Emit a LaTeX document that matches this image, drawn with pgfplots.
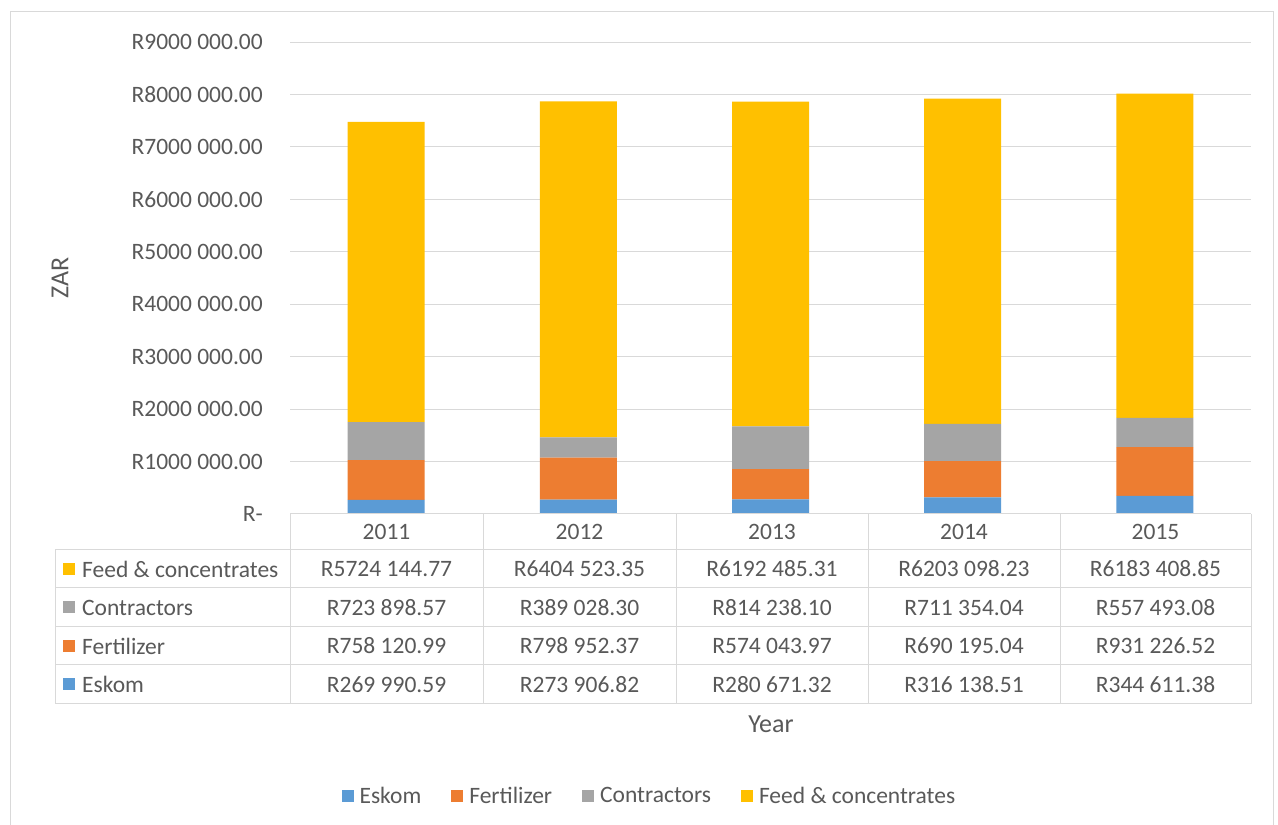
\documentclass[border=0pt]{standalone}
\usepackage{pgfplots}
\pgfplotsset{compat=1.18}
\usepackage{fontspec}
\setmainfont{Carlito}
\definecolor{cEsk}{HTML}{5B9BD5}
\definecolor{cFer}{HTML}{ED7D31}
\definecolor{cCon}{HTML}{A5A5A5}
\definecolor{cFeed}{HTML}{FFC000}
\definecolor{txt}{HTML}{595959}
\definecolor{gridc}{HTML}{D9D9D9}
\pgfplotsset{sq legend/.style={legend image code/.code={\fill[##1] (0pt,-6pt) rectangle (12pt,6pt);}}}
\newcommand{\tf}{\fontsize{23.5}{28}\selectfont}
\begin{document}
\begin{tikzpicture}[x=1pt,y=1pt]
\useasboundingbox (0,0) rectangle (1278,825);
\fill[white] (0,0) rectangle (1278,825);
\draw[gridc, line width=1pt] (10,813) rectangle (1273,-10);
\begin{axis}[
  at={(290pt,311pt)}, anchor=south west,
  scale only axis, width=961pt, height=472pt,
  ymin=0, ymax=9000000, xmin=-0.5, xmax=4.5,
  ybar stacked, bar width=77pt,
  axis line style={draw=none}, major tick length=0pt,
  xtick=\empty,
  ytick={0,1000000,2000000,3000000,4000000,5000000,6000000,7000000,8000000,9000000},
  yticklabels={R-\hspace{11pt},R1000 000.00,R2000 000.00,R3000 000.00,R4000 000.00,R5000 000.00,R6000 000.00,R7000 000.00,R8000 000.00,R9000 000.00},
  scaled y ticks=false,
  ymajorgrids, grid style={gridc, line width=1pt},
  yticklabel style={font=\tf, text=txt, inner sep=0pt, xshift=-27pt},
  legend columns=4,
  legend style={at={(0.374,-0.597)}, anchor=center, draw=none, fill=none,
    font=\tf, text=txt,
    /tikz/every odd column/.append style={column sep=4pt},
    /tikz/every even column/.append style={column sep=28pt}},
]
\addplot[fill=cEsk, draw=none, sq legend] coordinates {(0,269990.59) (1,273906.82) (2,280671.32) (3,316138.51) (4,344611.38)};
\addplot[fill=cFer, draw=none, sq legend] coordinates {(0,758120.99) (1,798952.37) (2,574043.97) (3,690195.04) (4,931226.52)};
\addplot[fill=cCon, draw=none, sq legend] coordinates {(0,723898.57) (1,389028.30) (2,814238.10) (3,711354.04) (4,557493.08)};
\addplot[fill=cFeed, draw=none, sq legend] coordinates {(0,5724144.77) (1,6404523.35) (2,6192485.31) (3,6203098.23) (4,6183408.85)};
\legend{Eskom, Fertilizer, Contractors, Feed \& concentrates}
\end{axis}
% data table
\begin{scope}[gridc, line width=1pt]
\draw (290,311) -- (1251,311);
\foreach \y in {275,237,198,160,121} \draw (55,\y) -- (1251,\y);
\foreach \x in {290,483,676,868,1060,1251} \draw (\x,311) -- (\x,121);
\draw (55,275) -- (55,121);
\end{scope}
\begin{scope}[font=\tf, text=txt]
\foreach \x/\t in {386.5/2011,579.5/2012,772/2013,964/2014,1155.5/2015} \node at (\x,293) {\t};
\foreach \x/\t in {386.5/{R5724 144.77},579.5/{R6404 523.35},772/{R6192 485.31},964/{R6203 098.23},1155.5/{R6183 408.85}} \node at (\x,256) {\t};
\foreach \x/\t in {386.5/{R723 898.57},579.5/{R389 028.30},772/{R814 238.10},964/{R711 354.04},1155.5/{R557 493.08}} \node at (\x,217.5) {\t};
\foreach \x/\t in {386.5/{R758 120.99},579.5/{R798 952.37},772/{R574 043.97},964/{R690 195.04},1155.5/{R931 226.52}} \node at (\x,179) {\t};
\foreach \x/\t in {386.5/{R269 990.59},579.5/{R273 906.82},772/{R280 671.32},964/{R316 138.51},1155.5/{R344 611.38}} \node at (\x,140.5) {\t};
\fill[cFeed] (63,250) rectangle (75,262); \node[anchor=west, inner sep=0pt] at (82,256) {Feed \& concentrates};
\fill[cCon] (63,211.5) rectangle (75,223.5); \node[anchor=west, inner sep=0pt] at (82,217.5) {Contractors};
\fill[cFer] (63,173) rectangle (75,185); \node[anchor=west, inner sep=0pt] at (82,179) {Fertilizer};
\fill[cEsk] (63,134.5) rectangle (75,146.5); \node[anchor=west, inner sep=0pt] at (82,140.5) {Eskom};
\end{scope}
\node[font=\fontsize{26}{30}\selectfont, text=txt] at (771,101) {Year};
\node[font=\fontsize{26}{30}\selectfont, text=txt, rotate=90] at (60,547) {ZAR};
\end{tikzpicture}
\end{document}
